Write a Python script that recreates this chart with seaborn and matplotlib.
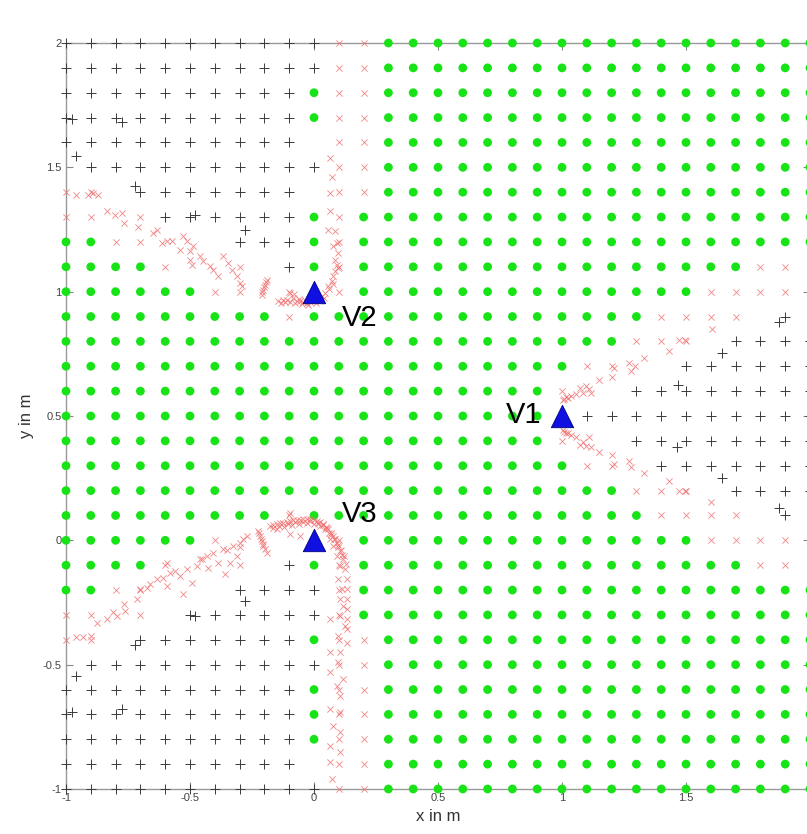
import matplotlib
matplotlib.use("Agg")
import matplotlib.pyplot as plt
import seaborn as sns
import pandas as pd

# ---------------- data ----------------
grid_x = [-1.0, -0.9, -0.8, -0.7, -0.6, -0.5, -0.4, -0.3, -0.2, -0.1, 0.0,
          0.1, 0.2, 0.3, 0.4, 0.5, 0.6, 0.7, 0.8, 0.9, 1.0,
          1.1, 1.2, 1.3, 1.4, 1.5, 1.6, 1.7, 1.8, 1.9, 2.0]
grid_y = [2.0, 1.9, 1.8, 1.7, 1.6, 1.5, 1.4, 1.3, 1.2, 1.1, 1.0,
          0.9, 0.8, 0.7, 0.6, 0.5, 0.4, 0.3, 0.2, 0.1, 0.0,
          -0.1, -0.2, -0.3, -0.4, -0.5, -0.6, -0.7, -0.8, -0.9, -1.0]
# G = green dot, P = black plus, R = red cross, . = nothing  (x = -1 ... 2)
grid_rows = [
    "PPPPPPPPPPPRR" + "GGGGGGGGGGGGGGGGGG",   # 2.0
    "PPPPPPPPPPPRR" + "GGGGGGGGGGGGGGGGGG",   # 1.9
    "PPPPPPPPPPGRR" + "GGGGGGGGGGGGGGGGGG",   # 1.8
    "PPPPPPPPPPGRR" + "GGGGGGGGGGGGGGGGGG",   # 1.7
    "PPPPPPPPPP.RR" + "GGGGGGGGGGGGGGGGGG",   # 1.6
    ".PPPPPPPPPPRR" + "GGGGGGGGGGGGGGGGGG",   # 1.5
    "RR.PPPPPPP.RR" + "GGGGGGGGGGGGGGGGGG",   # 1.4
    "RR.RPPPPPPGRG" + "GGGGGGGGGGGGGGGGGG",   # 1.3
    "GGRR...PPPGRG" + "GGGGGGGGGGGGGGGGGG",   # 1.2
    "GGGGR..R.PGRG" + "GGGGGGGGGGGGGGGRRR",   # 1.1
    "GGGGGGRR.R.RG" + "GGGGGGGGGGGGGRRRR.",   # 1.0
    "GGGGGGGGGRGGG" + "GGGGGGGGGGGRRRR.P.",   # 0.9
    "GGGGGGGGGGGGG" + "GGGGGGGGGGRRR.PPPP",   # 0.8
    "GGGGGGGGGGGGG" + "GGGGGGGGRR..PPPPPP",   # 0.7
    "GGGGGGGGGGGGG" + "GGGGGGGR..PPPPPPPP",   # 0.6
    "GGGGGGGGGGGGG" + "GGGGGGG.PPPPPPPPPP",   # 0.5
    "GGGGGGGGGGGGG" + "GGGGGGGR..PPPPPPPP",   # 0.4
    "GGGGGGGGGGGGG" + "GGGGGGGGRR.PPPPPPP",   # 0.3
    "GGGGGGGGGGGGG" + "GGGGGGGGGGRRR.PPPP",   # 0.2
    "GGGGGGGGGRGGG" + "GGGGGGGGGGGRRRR.P.",   # 0.1
    "GGGGGGR....RG" + "GGGGGGGGGGGGGRRRR.",   # 0.0
    "GGGGR..R.PGRG" + "GGGGGGGGGGGGGGGRRR",   # -0.1
    "GGRR...PPPPRG" + "GGGGGGGGGGGGGGGGGG",   # -0.2
    "RR.R.PPPPPPRG" + "GGGGGGGGGGGGGGGGGG",   # -0.3
    "RR.PPPPPPPGRR" + "GGGGGGGGGGGGGGGGGG",   # -0.4
    ".PPPPPPPPPPRR" + "GGGGGGGGGGGGGGGGGG",   # -0.5
    "PPPPPPPPPPGRR" + "GGGGGGGGGGGGGGGGGG",   # -0.6
    "PPPPPPPPPPGRR" + "GGGGGGGGGGGGGGGGGG",   # -0.7
    "PPPPPPPPPPGRR" + "GGGGGGGGGGGGGGGGGG",   # -0.8
    "PPPPPPPPPP.RR" + "GGGGGGGGGGGGGGGGGG",   # -0.9
    "PPPPPPPPPPPRR" + "GGGGGGGGGGGGGGGGGG",   # -1.0
]

# off-grid black pluses
plus_extra_x = [-0.96, -0.977, -0.776, -0.722, -0.48, -0.278,
                -0.96, -0.977, -0.776, -0.722, -0.48, -0.278,
                1.466, 1.463, 1.644, 1.644, 1.875, 1.875]
plus_extra_y = [1.544, 1.693, 1.684, 1.426, 1.309, 1.249,
                -0.545, -0.692, -0.679, -0.420, -0.304, -0.244,
                0.626, 0.374, 0.752, 0.249, 0.878, 0.129]

# red crosses along the trajectories near V1
v1_traj_x = [1.003, 1.016, 1.036, 1.056, 1.072, 1.083, 1.097, 1.110, 1.117, 1.150,
             1.201, 1.211, 1.271, 1.278, 1.295, 1.332, 1.432, 1.472, 1.495, 1.603,
             1.003, 1.016, 1.036, 1.056, 1.072, 1.083, 1.097, 1.110, 1.117, 1.150,
             1.201, 1.211, 1.271, 1.278, 1.332, 1.432, 1.472, 1.495, 1.600,
             1.010, 1.025, 1.010, 1.025]
v1_traj_y = [0.565, 0.576, 0.581, 0.589, 0.612, 0.592, 0.622, 0.608, 0.592, 0.646,
             0.657, 0.694, 0.712, 0.680, 0.703, 0.732, 0.762, 0.807, 0.807, 0.848,
             0.442, 0.431, 0.422, 0.415, 0.385, 0.395, 0.381, 0.415, 0.374, 0.354,
             0.344, 0.306, 0.320, 0.293, 0.272, 0.238, 0.197, 0.197, 0.156,
             0.570, 0.572, 0.436, 0.432]

# red crosses near V2
v2_traj_x = [-0.96, -0.91, -0.89, -0.87, -0.836, -0.802, -0.776, -0.766, -0.708,
             -0.648, -0.634, -0.614, -0.594, -0.574, -0.530, -0.513, -0.540, -0.500,
             -0.487, -0.500, -0.493, -0.460, -0.446, -0.419, -0.406, -0.386, -0.366,
             -0.345, -0.332, -0.312, -0.298, -0.292,
             -0.191, -0.195, -0.198, -0.201, -0.204, -0.208, -0.211,
             -0.144, -0.125, -0.110, -0.083, -0.070, -0.056, -0.043, -0.030, -0.015,
             0.004, 0.018, 0.031, 0.044, -0.097, -0.080, -0.060, -0.035, -0.005,
             -0.135, -0.115, -0.095, -0.075, -0.050, -0.025, 0.010, 0.025, 0.040,
             0.058, 0.071, 0.078, 0.085, 0.091, 0.085, 0.098, 0.078, 0.091, 0.058,
             0.085, 0.065, 0.065, 0.071, 0.065, 0.062, 0.075, 0.095]
v2_traj_y = [1.39, 1.39, 1.395, 1.39, 1.323, 1.309, 1.316, 1.276, 1.262,
             1.236, 1.249, 1.195, 1.202, 1.202, 1.222, 1.202, 1.169, 1.162,
             1.182, 1.128, 1.108, 1.142, 1.122, 1.102, 1.088, 1.062, 1.142,
             1.115, 1.088, 1.062, 1.035, 1.021,
             1.048, 1.038, 1.028, 1.018, 1.008, 0.998, 0.988,
             0.961, 0.965, 0.968, 0.975, 0.962, 0.961, 0.958, 0.955, 0.960,
             0.968, 0.975, 0.981, 0.995, 0.995, 0.990, 0.970, 0.965, 0.972,
             0.955, 0.958, 0.960, 0.955, 0.950, 0.948, 0.955, 0.962, 0.975,
             1.021, 1.041, 1.062, 1.082, 1.108, 1.129, 1.155, 1.182, 1.195, 1.249,
             1.242, 1.323, 1.396, 1.463, 1.537, 1.010, 1.030, 1.095]

# red crosses near V3
v3_traj_x = [-0.876, -0.836, -0.809, -0.796, -0.766, -0.762, -0.715, -0.702, -0.675,
             -0.634, -0.608, -0.594, -0.581, -0.540, -0.530, -0.513, -0.493, -0.473,
             -0.460, -0.433, -0.426, -0.406, -0.386, -0.366, -0.359, -0.339, -0.325,
             -0.312, -0.298, -0.285, -0.271, -0.594, -0.96, -0.93, -0.90,
             -0.660, -0.560, -0.450, -0.350, -0.300,
             -0.224, -0.221, -0.218, -0.214, -0.211, -0.207, -0.204, -0.197, -0.191,
             -0.177, -0.164, -0.151, -0.137, -0.124, -0.110, -0.097, -0.083, -0.070,
             -0.056, -0.043, -0.030, -0.016, -0.002, 0.011, 0.025, 0.038, 0.048,
             0.058, 0.068, 0.078, 0.085, 0.091, 0.098, 0.105, 0.112, 0.118, 0.125,
             -0.150, -0.120, -0.090, -0.060, -0.030, 0.000, 0.025, 0.045, 0.060,
             -0.165, -0.140, -0.105, -0.075, -0.045, -0.015, 0.015, 0.035, 0.052,
             0.070, 0.082, 0.095, 0.108, 0.120, 0.128,
             -0.097, -0.056, -0.097, 0.065, 0.078, 0.091, 0.105, 0.098, 0.111,
             0.132, 0.132, 0.132, 0.132, 0.132, 0.132, 0.132,
             0.105, 0.118, 0.105, 0.065, 0.125, 0.098, 0.065, 0.105, 0.098,
             0.065, 0.118, 0.091, 0.105, 0.065, 0.105, 0.078, 0.105, 0.065,
             0.105, 0.065, 0.071]
v3_traj_y = [-0.331, -0.317, -0.290, -0.304, -0.257, -0.284, -0.237, -0.197, -0.190,
             -0.157, -0.150, -0.183, -0.130, -0.143, -0.217, -0.116, -0.170, -0.103,
             -0.076, -0.063, -0.110, -0.049, -0.090, -0.036, -0.136, -0.090, -0.023,
             -0.063, -0.009, 0.004, 0.017, -0.090, -0.39, -0.39, -0.385,
             -0.175, -0.125, -0.075, -0.040, -0.025,
             0.038, 0.028, 0.017, 0.007, -0.003, -0.013, -0.023, -0.036, -0.049,
             0.058, 0.061, 0.064, 0.068, 0.071, 0.074, 0.078, 0.080, 0.082,
             0.083, 0.084, 0.084, 0.084, 0.082, 0.078, 0.072, 0.064, 0.055,
             0.044, 0.030, 0.017, 0.004, -0.009, -0.026, -0.043, -0.060, -0.076, -0.116,
             0.045, 0.055, 0.062, 0.066, 0.068, 0.066, 0.058, 0.044, 0.030,
             0.050, 0.058, 0.066, 0.072, 0.075, 0.076, 0.070, 0.060, 0.048,
             0.022, 0.005, -0.018, -0.040, -0.065, -0.095,
             0.024, 0.017, 0.111, 0.004, -0.023, -0.063, -0.103, -0.157, -0.197,
             -0.157, -0.197, -0.237, -0.277, -0.317, -0.357, -0.411,
             -0.237, -0.264, -0.304, -0.317, -0.344, -0.384, -0.451, -0.451, -0.491,
             -0.531, -0.558, -0.585, -0.625, -0.679, -0.692, -0.746, -0.772, -0.826,
             -0.853, -0.893, -0.960]

vehicle_x = [1.0, 0.0, 0.0]
vehicle_y = [0.5, 1.0, 0.0]
vehicle_names = ["V1", "V2", "V3"]
label_x = [0.775, 0.112, 0.112]
label_y = [0.505, 0.895, 0.105]

x_ticks = [-1, -0.5, 0, 0.5, 1, 1.5, 2]
y_ticks = [-1, -0.5, 0, 0.5, 1, 1.5, 2]
tick_labels = ["-1", "-0.5", "0", "0.5", "1", "1.5", "2"]

# ---------------- build tables ----------------
recs = []
for yv, row in zip(grid_y, grid_rows):
    for xv, c in zip(grid_x, row):
        if c != ".":
            recs.append((xv, yv, c))
grid = pd.DataFrame(recs, columns=["x", "y", "kind"])
plus_df = pd.concat([grid[grid.kind == "P"][["x", "y"]],
                     pd.DataFrame({"x": plus_extra_x, "y": plus_extra_y})])
red_df = pd.concat([grid[grid.kind == "R"][["x", "y"]],
                    pd.DataFrame({"x": v1_traj_x, "y": v1_traj_y}),
                    pd.DataFrame({"x": v2_traj_x, "y": v2_traj_y}),
                    pd.DataFrame({"x": v3_traj_x, "y": v3_traj_y})])
green_df = grid[grid.kind == "G"]
veh_df = pd.DataFrame({"x": vehicle_x, "y": vehicle_y, "name": vehicle_names})

# ---------------- draw ----------------
sns.set_style("ticks")
plt.rcParams["font.family"] = ["Liberation Sans", "DejaVu Sans"]

fig = plt.figure(figsize=(8.07, 8.34), dpi=100)
ax = fig.add_axes([66 / 807, 45 / 834, 744 / 807, 746 / 834])

sns.scatterplot(data=green_df, x="x", y="y", marker="o", color="#17e317",
                s=40, edgecolor="none", ax=ax, clip_on=False, zorder=3)
sns.scatterplot(data=plus_df, x="x", y="y", marker="+", color="#3a3a3a",
                s=50, linewidth=0.7, ax=ax, clip_on=False, zorder=4)
sns.scatterplot(data=red_df, x="x", y="y", marker="x", color="#f07070",
                s=20, linewidth=0.6, alpha=0.85, ax=ax, clip_on=False, zorder=5)
sns.scatterplot(data=veh_df, x="x", y="y", marker="^", color="#1010e0",
                s=260, edgecolor="#000080", linewidth=0.6, ax=ax,
                clip_on=False, zorder=6)

for n, lx, ly in zip(vehicle_names, label_x, label_y):
    ax.text(lx, ly, n, fontsize=21, ha="left", va="center", color="black",
            zorder=7)

ax.set_xlim(-1, 2)
ax.set_ylim(-1, 2)
ax.set_xticks(x_ticks)
ax.set_xticklabels(tick_labels)
ax.set_yticks(y_ticks)
ax.set_yticklabels(tick_labels)
ax.tick_params(direction="in", length=5, width=0.8, color="#888888",
               labelsize=8, labelcolor="#444444", top=True, right=True, pad=3)
for s in ax.spines.values():
    s.set_color("#999999")
    s.set_linewidth(1.0)
ax.set_xlabel("x in m", fontsize=12, color="#333333", labelpad=4)
ax.set_ylabel("y in m", fontsize=12, color="#333333", labelpad=6)

fig.savefig("out.png", dpi=100)
